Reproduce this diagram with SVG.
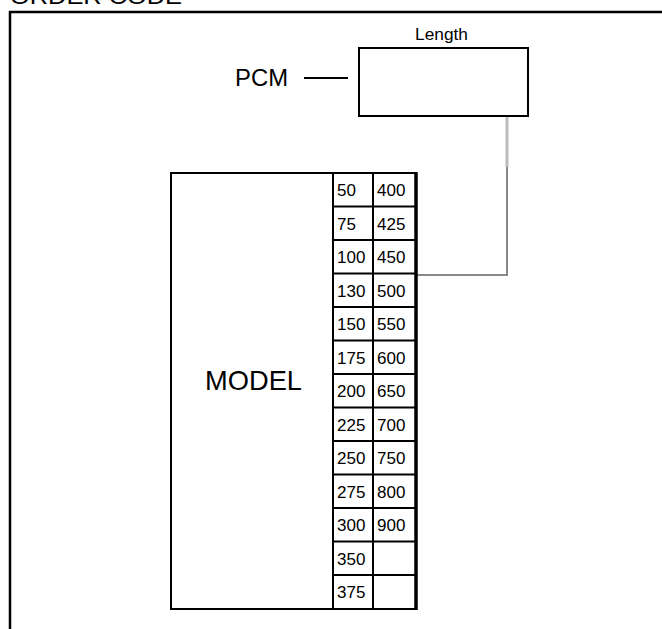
<svg xmlns="http://www.w3.org/2000/svg" width="662" height="629" viewBox="0 0 662 629">
<style>
text{font-family:"Liberation Sans",Arial,sans-serif;fill:#000}
.n{font-size:17px}
.box{fill:#fff;stroke:#000;stroke-width:2}
.grid{stroke:#000;stroke-width:2;fill:none}
</style>
<rect width="662" height="629" fill="#fff"/>
<text x="10" y="4" style="font-size:22px" textLength="172" lengthAdjust="spacingAndGlyphs">ORDER CODE</text>
<path d="M10,629 V12 H662" fill="none" stroke="#000" stroke-width="2.5"/>
<g id="connectors">
<line x1="304" y1="78" x2="348" y2="78" stroke="#000" stroke-width="2"/>
<path d="M507,117 V167" fill="none" stroke="#bbb" stroke-width="3"/>
<path d="M507,167 V275 H417" fill="none" stroke="#888" stroke-width="2"/>
</g>
<g id="pcm">
<text x="235" y="86" style="font-size:24px" textLength="53" lengthAdjust="spacingAndGlyphs">PCM</text>
</g>
<g id="length-box">
<rect class="box" x="359" y="48" width="169" height="68"/>
<text x="441.5" y="39.5" text-anchor="middle" style="font-size:16px" textLength="53" lengthAdjust="spacingAndGlyphs">Length</text>
</g>
<g id="model">
<rect class="box" x="171" y="173" width="245" height="436"/>
<text x="205" y="390" style="font-size:28px" textLength="97" lengthAdjust="spacingAndGlyphs">MODEL</text>
</g>
<g id="table">
<path class="grid" d="M333,173 V609 M373,173 V609
M333,206.5 H416 M333,240 H416 M333,273.5 H416 M333,307 H416 M333,340.5 H416 M333,374 H416 M333,407.5 H416 M333,441 H416 M333,474.5 H416 M333,508 H416 M333,541.5 H416 M333,575 H416"/>
<line x1="416" y1="172" x2="416" y2="610" stroke="#000" stroke-width="3.5"/>
<g class="n">
<text x="337" y="196">50</text><text x="377" y="196">400</text>
<text x="337" y="229.5">75</text><text x="377" y="229.5">425</text>
<text x="337" y="263">100</text><text x="377" y="263">450</text>
<text x="337" y="296.5">130</text><text x="377" y="296.5">500</text>
<text x="337" y="330">150</text><text x="377" y="330">550</text>
<text x="337" y="363.5">175</text><text x="377" y="363.5">600</text>
<text x="337" y="397">200</text><text x="377" y="397">650</text>
<text x="337" y="430.5">225</text><text x="377" y="430.5">700</text>
<text x="337" y="464">250</text><text x="377" y="464">750</text>
<text x="337" y="497.5">275</text><text x="377" y="497.5">800</text>
<text x="337" y="531">300</text><text x="377" y="531">900</text>
<text x="337" y="564.5">350</text>
<text x="337" y="598">375</text>
</g>
</g>
</svg>
